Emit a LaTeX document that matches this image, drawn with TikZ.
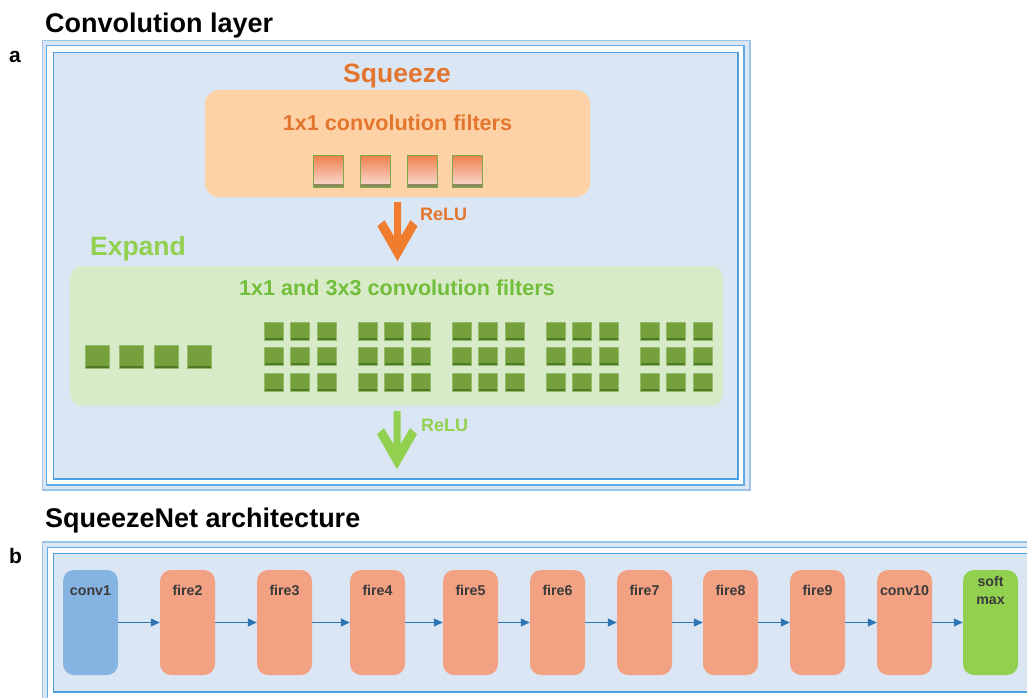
\documentclass[tikz,border=0pt]{standalone}
\usepackage{fontspec}
\setmainfont{Liberation Sans}
\usetikzlibrary{arrows.meta,calc}

\definecolor{frameLight}{HTML}{9DC3E6}
\definecolor{frameMid}{HTML}{5FAAE8}
\definecolor{frameBlue}{HTML}{4AA0E0}
\definecolor{panelFill}{HTML}{DAE6F4}
\definecolor{sqzFill}{HTML}{FDD2A6}
\definecolor{sqzText}{HTML}{E4752F}
\definecolor{arrOrange}{HTML}{F07C2E}
\definecolor{expFill}{HTML}{D8EBC9}
\definecolor{expText}{HTML}{92D050}
\definecolor{expSub}{HTML}{72BE3A}
\definecolor{cellGreen}{HTML}{76A03C}
\definecolor{cellDark}{HTML}{4E7A26}
\definecolor{cellEdge}{HTML}{93BC6A}
\definecolor{oTop}{HTML}{EE8048}
\definecolor{oMid}{HTML}{F4AE94}
\definecolor{oBot}{HTML}{F9DDD2}
\definecolor{oEdge}{HTML}{7FA84A}
\definecolor{oStrip}{HTML}{8C8A5A}
\definecolor{convBlue}{HTML}{85B4E2}
\definecolor{fireRed}{HTML}{F2A283}
\definecolor{softGreen}{HTML}{92D050}
\definecolor{lblGray}{HTML}{3A3A3A}
\definecolor{flowBlue}{HTML}{2E75B6}

\tikzset{
  heading/.style={font=\fontsize{27}{31}\selectfont\bfseries, anchor=base west, inner sep=0pt},
  panelmark/.style={font=\fontsize{21}{24}\selectfont\bfseries, anchor=base west, inner sep=0pt},
  sectitle/.style={font=\fontsize{26.5}{30}\selectfont\bfseries, anchor=base, inner sep=0pt},
  subtitle/.style={font=\fontsize{21.6}{25}\selectfont\bfseries, anchor=base, inner sep=0pt},
  relu/.style={font=\fontsize{18}{21}\selectfont\bfseries, anchor=base west, inner sep=0pt},
  sqzbox/.style={rounded corners=14pt, fill=sqzFill, draw=none, inner sep=0pt},
  expbox/.style={rounded corners=12pt, fill=expFill, draw=none, inner sep=0pt},
  ofilter/.style={draw=oEdge, line width=0.8pt, inner sep=0pt,
    minimum width=30pt, minimum height=32pt,
    top color=oTop, bottom color=oBot, middle color=oMid,
    path picture={\fill[oStrip] (path picture bounding box.south west)
      rectangle ([yshift=3.5pt]path picture bounding box.south east);}},
  gcell/.style={draw=cellEdge, line width=0.5pt, fill=cellGreen, inner sep=0pt,
    path picture={\fill[cellDark] (path picture bounding box.south west)
      rectangle ([yshift=2.5pt]path picture bounding box.south east);}},
  layer/.style={rounded corners=11pt, draw=none, inner sep=0pt,
    minimum width=55pt, minimum height=105pt},
  layername/.style={font=\fontsize{14.2}{17}\selectfont\bfseries, text=lblGray,
    anchor=base, inner sep=0pt},
  flow/.style={draw=flowBlue, line width=1.1pt,
    -{Triangle[length=9pt,width=8pt]}},
}

\begin{document}
\begin{tikzpicture}[x=1pt,y=-1pt]
\useasboundingbox (0,0) rectangle (1027,697);
\clip (0,0) rectangle (1027,697);

% ---------- panel a : fire module ----------
\node[heading] (titleA) at (45,32) {Convolution layer};
\node[panelmark] (markA) at (9,62) {a};

\draw[frameLight, line width=1.6pt, fill=panelFill] (42.5,40.5) rectangle (750,490);
\draw[frameMid, line width=1.2pt, fill=white] (46.5,45.5) rectangle (744,485);
\draw[frameBlue, line width=1.2pt, fill=panelFill] (53.5,52.5) rectangle (738,479);

% squeeze stage
\node[sectitle, text=sqzText] (sqzT) at (397,82) {Squeeze};
\node[sqzbox, minimum width=385pt, minimum height=107pt] (sqz) at (397.5,143.5) {};
\node[subtitle, text=sqzText] (sqzSub) at (397.5,130) {1x1 convolution filters};
\foreach \x [count=\i] in {328,375.5,422,467}
  \node[ofilter] (of\i) at (\x,171) {};

% expand stage
\node[sectitle, text=expText] (expT) at (138,255) {Expand};
\node[expbox, minimum width=653pt, minimum height=140pt] (exp) at (396.5,336) {};
\node[subtitle, text=expSub] (expSub) at (397,295) {1x1 and 3x3 convolution filters};

% 1x1 expand filters
\foreach \x [count=\i] in {97.5,131.5,166.5,199.5}
  \node[gcell, minimum width=24pt, minimum height=23pt] (e\i) at (\x,356.5) {};

% 3x3 expand filters
\foreach \g in {0,...,4}
  \foreach \c in {0,1,2}
    \foreach \r in {0,1,2}
      \node[gcell, minimum width=19pt, minimum height=18pt] (k\g\c\r)
        at ({273.5+94*\g+26.5*\c},{331+25.5*\r}) {};

% ReLU block arrows
\coordinate (a1) at ($(sqz.south)+(-3.5,5)$);
\fill[arrOrange] (a1) -- ++(7,0) -- ++(0,34) -- ++(9.5,-16) -- ++(7,6)
  -- ++(-20,35) -- ++(-20,-35) -- ++(7,-6) -- ++(9.5,16) -- cycle;
\node[relu, text=sqzText] (relu1) at (420,220) {ReLU};

\coordinate (a2) at ($(exp.south)+(-3,5)$);
\fill[expText] (a2) -- ++(7,0) -- ++(0,33) -- ++(9.5,-16) -- ++(7,6)
  -- ++(-20,35) -- ++(-20,-35) -- ++(7,-6) -- ++(9.5,16) -- cycle;
\node[relu, text=expText] (relu2) at (421,431) {ReLU};

% ---------- panel b : network ----------
\node[heading] (titleB) at (45,527) {SqueezeNet architecture};
\node[panelmark] (markB) at (9,563) {b};

\draw[frameLight, line width=1.6pt, fill=panelFill] (42.5,542) rectangle (1045,710);
\draw[frameMid, line width=1.2pt, fill=white] (47.5,547.5) rectangle (1040,704);
\draw[frameBlue, line width=1.2pt, fill=panelFill] (53.5,553.5) rectangle (1035,692);

\node[layer, fill=convBlue] (L1) at (90.5,622.5) {};
\foreach \x [count=\i from 2] in {187.5,284.5,377.5,470.5,557.5,644.5,730.5,817.5,904.5}
  \node[layer, fill=fireRed] (L\i) at (\x,622.5) {};
\node[layer, fill=softGreen] (L11) at (990.5,622.5) {};

\node[layername] at ($(L1.north)+(0,26)$) {conv1};
\foreach \i in {2,...,9}
  \node[layername] at ($(L\i.north)+(0,26)$) {fire\i};
\node[layername] at ($(L10.north)+(0,26)$) {conv10};
\node[layername] at ($(L11.north)+(0,17)$) {soft};
\node[layername] at ($(L11.north)+(0,35)$) {max};

\foreach \i [evaluate=\i as \j using int(\i+1)] in {1,...,10}
  \draw[flow] (L\i.east) -- (L\j.west);

\end{tikzpicture}
\end{document}
